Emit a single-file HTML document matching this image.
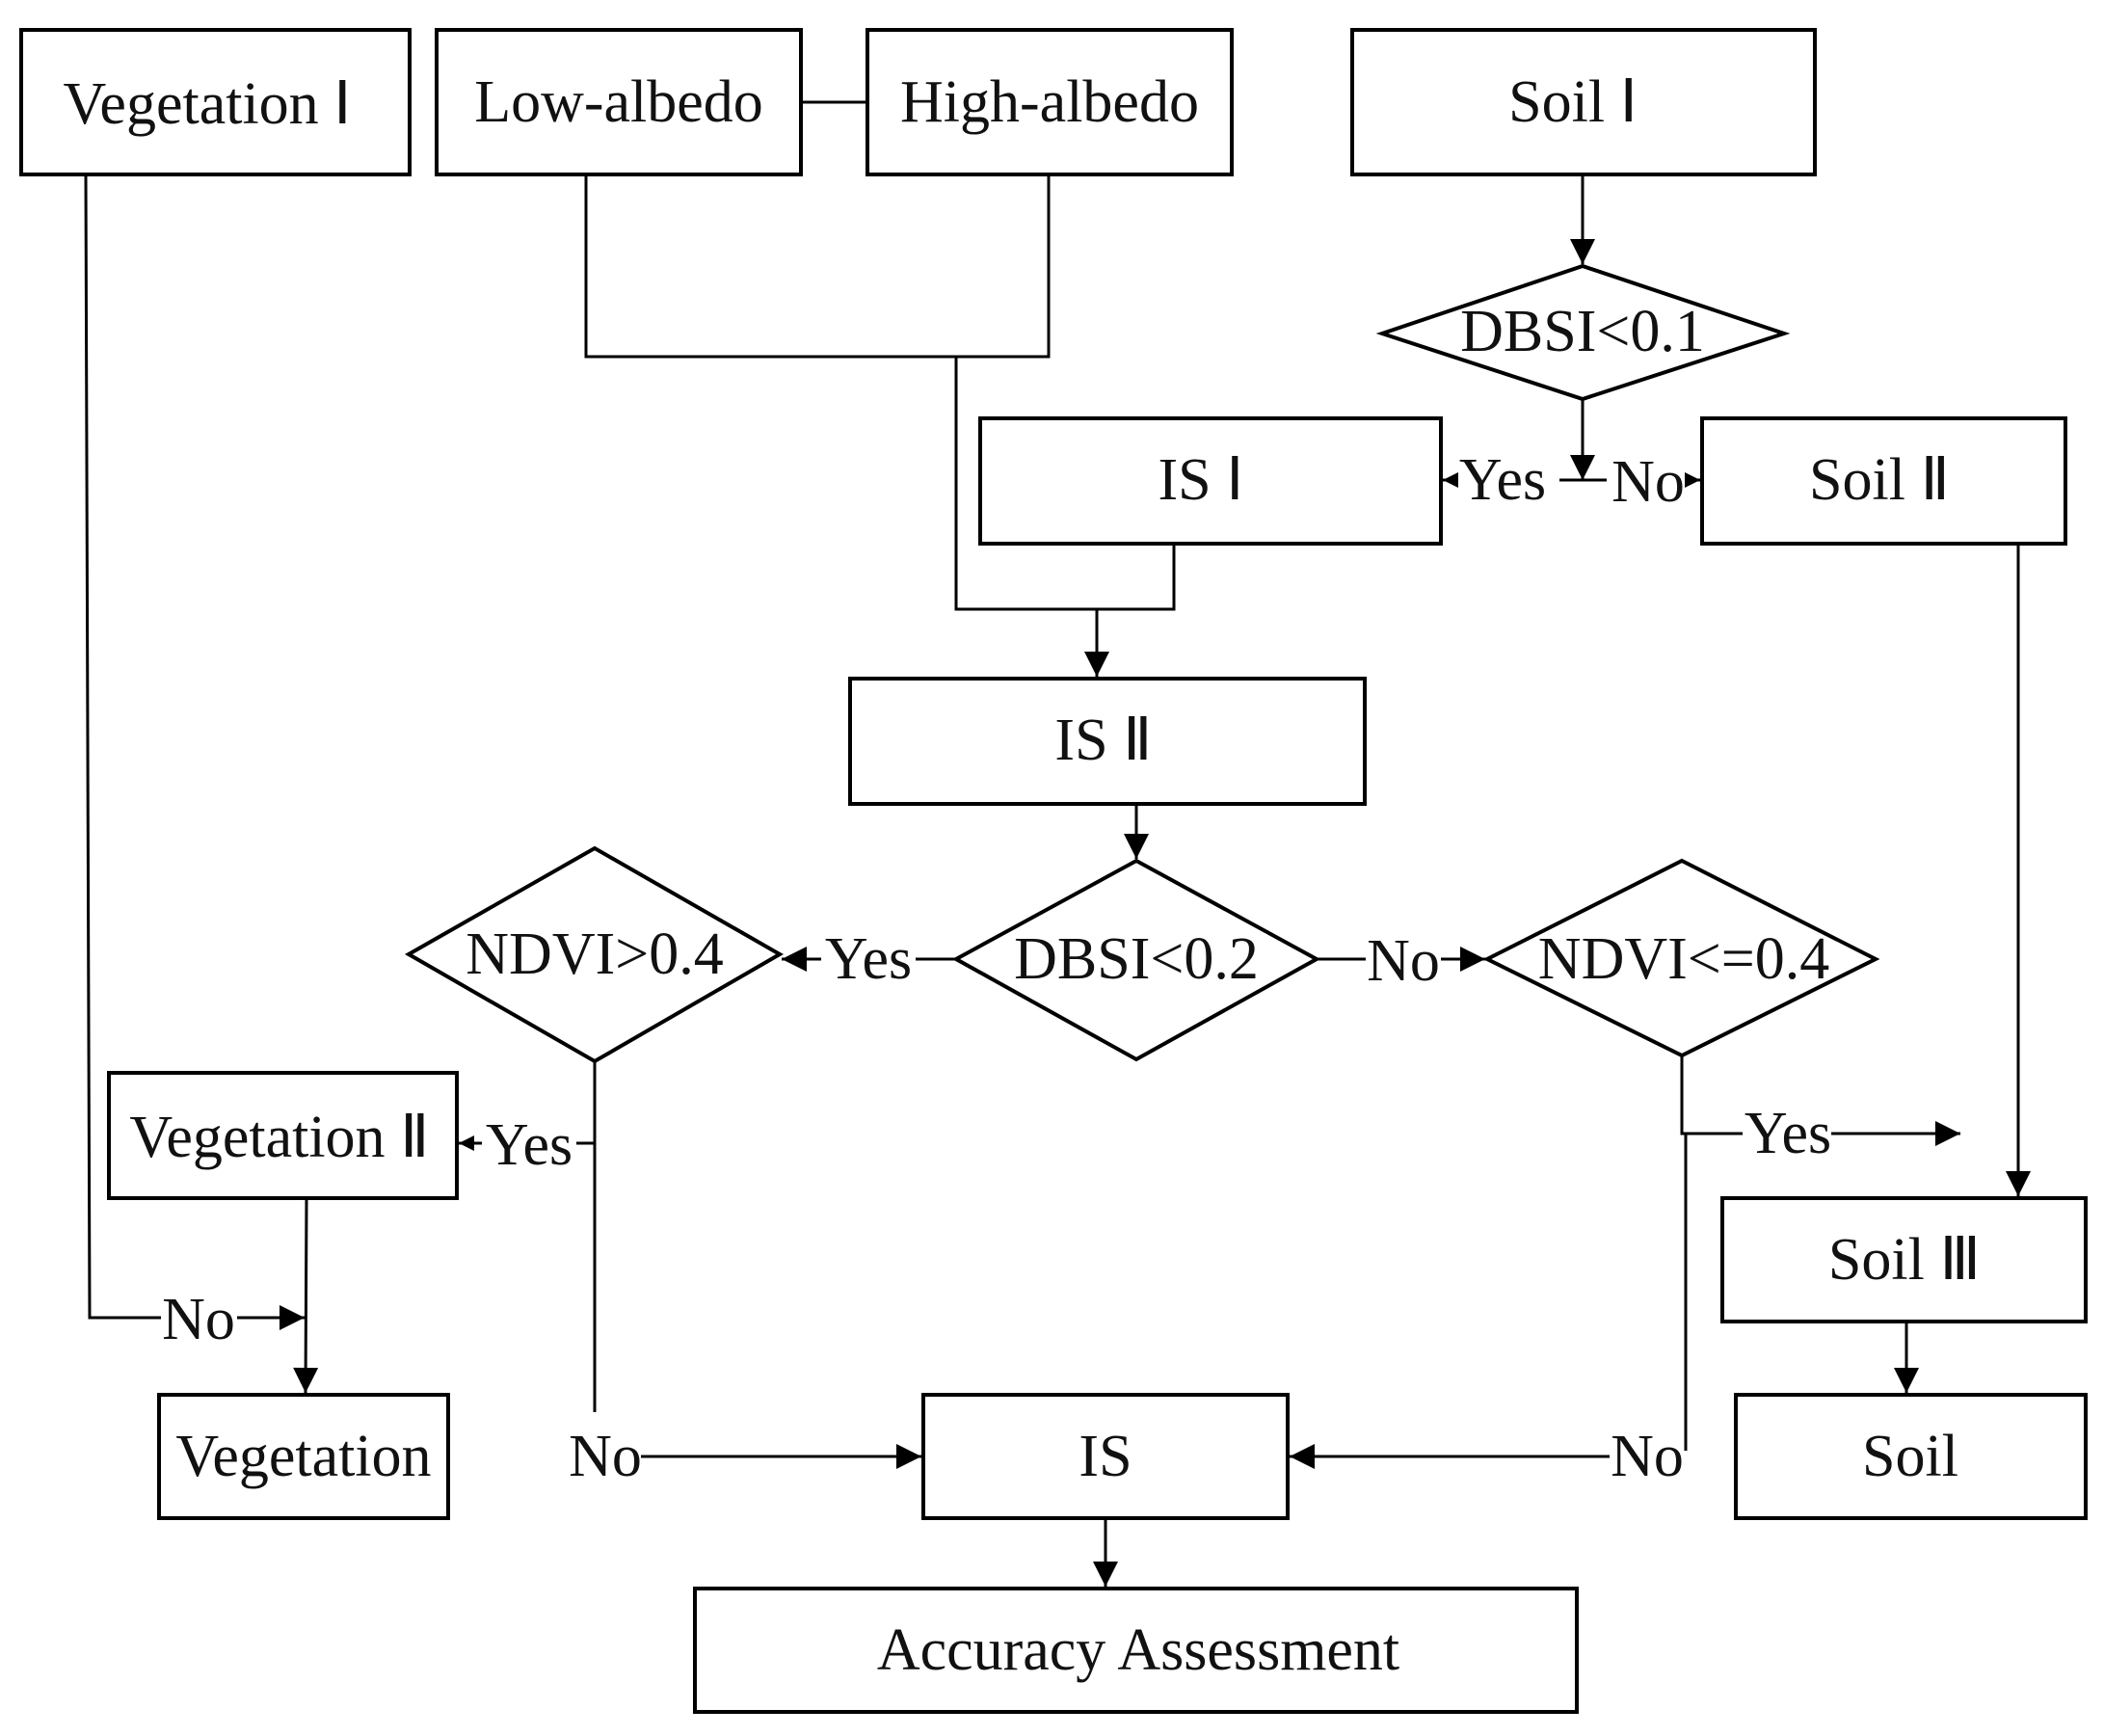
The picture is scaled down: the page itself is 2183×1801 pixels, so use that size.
<!DOCTYPE html>
<html><head><meta charset="utf-8"><style>
html,body{margin:0;padding:0;background:#fff;}
svg{display:block;}
text{font-family:"Liberation Serif",serif;font-size:62px;fill:#111;}
</style></head><body>
<svg width="2183" height="1801" viewBox="0 0 2183 1801" xmlns="http://www.w3.org/2000/svg">
<defs>
<marker id="b" viewBox="0 0 10 10" refX="10" refY="5" markerWidth="30" markerHeight="26" markerUnits="userSpaceOnUse" orient="auto"><path d="M0,0L10,5L0,10z" fill="#000"/></marker>
<marker id="s" viewBox="0 0 10 10" refX="10" refY="5" markerWidth="16" markerHeight="16" markerUnits="userSpaceOnUse" orient="auto"><path d="M0,0L10,5L0,10z" fill="#000"/></marker>
</defs>
<g fill="#fff" stroke="#000" stroke-width="4">
<rect x="22" y="31" width="403" height="150"/>
<rect x="453" y="31" width="378" height="150"/>
<rect x="900" y="31" width="378" height="150"/>
<rect x="1403" y="31" width="480" height="150"/>
<polygon points="1434,346 1642,276 1851,346 1642,414"/>
<rect x="1017" y="434" width="478" height="130"/>
<rect x="1766" y="434" width="377" height="130"/>
<rect x="882" y="704" width="534" height="130"/>
<polygon points="992,995 1179,893 1366,995 1179,1099"/>
<polygon points="424,990 617,880 809,990 617,1101"/>
<polygon points="1543,995 1745,893 1946,995 1745,1095"/>
<rect x="113" y="1113" width="361" height="130"/>
<rect x="165" y="1447" width="300" height="128"/>
<rect x="958" y="1447" width="378" height="128"/>
<rect x="1787" y="1243" width="377" height="128"/>
<rect x="1801" y="1447" width="363" height="128"/>
<rect x="721" y="1648" width="915" height="128"/>
</g>
<g fill="none" stroke="#000" stroke-width="3">
<line x1="831" y1="106" x2="900" y2="106"/>
<polyline points="608,181 608,370 1088,370 1088,181"/>
<polyline points="992,370 992,632 1218,632 1218,564"/>
<line x1="1138" y1="632" x2="1138" y2="702" marker-end="url(#b)"/>
<line x1="1642" y1="181" x2="1642" y2="274" marker-end="url(#b)"/>
<line x1="1642" y1="414" x2="1642" y2="498" marker-end="url(#b)"/>
<line x1="1618" y1="498" x2="1667" y2="498"/>
<line x1="1510" y1="498" x2="1497" y2="498" marker-end="url(#s)"/>
<line x1="1752" y1="498" x2="1764" y2="498" marker-end="url(#s)"/>
<line x1="2094" y1="564" x2="2094" y2="1241" marker-end="url(#b)"/>
<line x1="1179" y1="834" x2="1179" y2="891" marker-end="url(#b)"/>
<line x1="992" y1="995" x2="950" y2="995"/>
<line x1="852" y1="995" x2="811" y2="995" marker-end="url(#b)"/>
<line x1="1366" y1="995" x2="1417" y2="995"/>
<line x1="1495" y1="995" x2="1541" y2="995" marker-end="url(#b)"/>
<polyline points="617,1101 617,1465"/>
<line x1="617" y1="1186" x2="598" y2="1186"/>
<line x1="500" y1="1186" x2="476" y2="1186" marker-end="url(#s)"/>
<line x1="665" y1="1511" x2="956" y2="1511" marker-end="url(#b)"/>
<polyline points="89,181 93,1367 167,1367"/>
<line x1="246" y1="1367" x2="316" y2="1367" marker-end="url(#b)"/>
<line x1="318" y1="1243" x2="317" y2="1445" marker-end="url(#b)"/>
<polyline points="1745,1095 1745,1176 1808,1176"/>
<line x1="1749" y1="1176" x2="1749" y2="1505"/>
<line x1="1900" y1="1176" x2="2034" y2="1176" marker-end="url(#b)"/>
<line x1="1670" y1="1511" x2="1338" y2="1511" marker-end="url(#b)"/>
<line x1="1978" y1="1371" x2="1978" y2="1445" marker-end="url(#b)"/>
<line x1="1147" y1="1575" x2="1147" y2="1646" marker-end="url(#b)"/>
</g>
<g text-anchor="middle" dominant-baseline="central">
<text x="215" y="108">Vegetation Ⅰ</text>
<text x="642" y="106">Low-albedo</text>
<text x="1089" y="106">High-albedo</text>
<text x="1632" y="106">Soil Ⅰ</text>
<text x="1642" y="344">DBSI&lt;0.1</text>
<text x="1246" y="498">IS Ⅰ</text>
<text x="1950" y="498">Soil Ⅱ</text>
<text x="1145" y="768">IS Ⅱ</text>
<text x="1179" y="995">DBSI&lt;0.2</text>
<text x="617" y="990">NDVI&gt;0.4</text>
<text x="1747" y="995">NDVI&lt;=0.4</text>
<text x="290" y="1180">Vegetation Ⅱ</text>
<text x="315" y="1511">Vegetation</text>
<text x="1147" y="1511">IS</text>
<text x="1976" y="1307">Soil Ⅲ</text>
<text x="1982" y="1511">Soil</text>
<text x="1181" y="1712">Accuracy Assessment</text>
<text x="1559" y="498">Yes</text>
<text x="1710" y="500">No</text>
<text x="901" y="995">Yes</text>
<text x="1456" y="997">No</text>
<text x="549" y="1188">Yes</text>
<text x="628" y="1511">No</text>
<text x="206" y="1369">No</text>
<text x="1855" y="1176">Yes</text>
<text x="1709" y="1511">No</text>
</g>
</svg>
</body></html>
